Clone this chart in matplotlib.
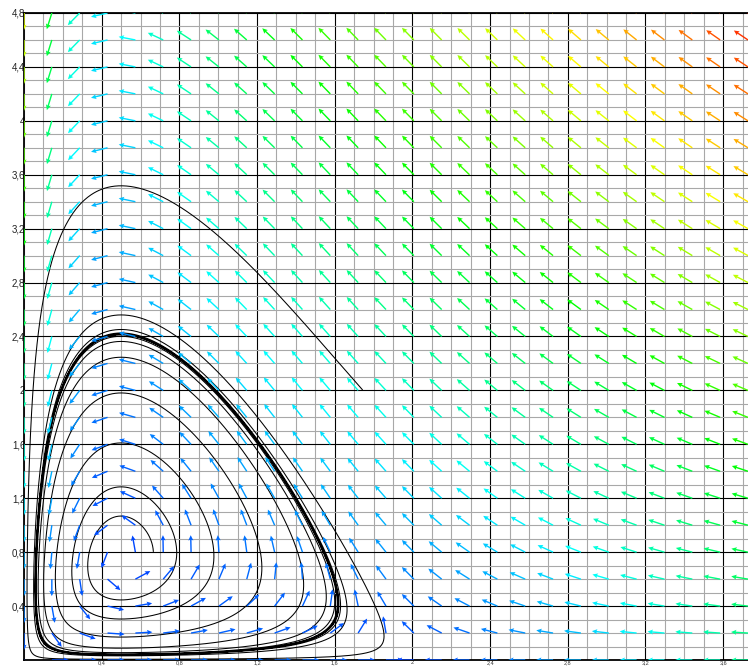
import numpy as np
import matplotlib
matplotlib.use("Agg")
import matplotlib.pyplot as plt
from matplotlib.colors import hsv_to_rgb, ListedColormap, Normalize
from matplotlib.ticker import MultipleLocator

# predator-prey model parameters
prey_growth = 0.4943
prey_capacity = 2.0
attack_rate = 1.0
handling = 2.1
conversion = 2.65
conversion_sat = 1.5
predator_death = 0.7571

# starting points of the drawn orbits and their integration times
orbit_start_x = [0.666, 1.742]
orbit_start_y = [0.806, 2.006]
orbit_time = [220.0, 160.0]

# axis window, arrow lattice and tick labels
x_max = 3.728
y_max = 4.8
arrow_cols = 27
arrow_rows = 25
x_tick_values = [0.4, 0.8, 1.2, 1.6, 2.0, 2.4, 2.8, 3.2, 3.6]
x_tick_labels = ["0,4", "0,8", "1,2", "1,6", "2", "2,4", "2,8", "3,2", "3,6"]
y_tick_values = [0.4, 0.8, 1.2, 1.6, 2.0, 2.4, 2.8, 3.2, 3.6, 4.0, 4.4, 4.8]
y_tick_labels = ["0,4", "0,8", "1,2", "1,6", "2", "2,4", "2,8", "3,2", "3,6", "4", "4,4", "4,8"]


def field(x, y):
    dx = prey_growth * x * (1 - x / prey_capacity) - attack_rate * x * y / (1 + handling * x)
    dy = y * (conversion * x / (1 + conversion_sat * x) - predator_death)
    return dx, dy


def orbit(x0, y0, t_end, dt=0.005):
    n = int(t_end / dt)
    xs = np.empty(n + 1)
    ys = np.empty(n + 1)
    x, y = x0, y0
    xs[0], ys[0] = x, y
    for i in range(n):
        k1 = field(x, y)
        k2 = field(x + 0.5 * dt * k1[0], y + 0.5 * dt * k1[1])
        k3 = field(x + 0.5 * dt * k2[0], y + 0.5 * dt * k2[1])
        k4 = field(x + dt * k3[0], y + dt * k3[1])
        x += dt / 6 * (k1[0] + 2 * k2[0] + 2 * k3[0] + k4[0])
        y += dt / 6 * (k1[1] + 2 * k2[1] + 2 * k3[1] + k4[1])
        xs[i + 1], ys[i + 1] = x, y
    return xs, ys


W, H = 748, 668
fig = plt.figure(figsize=(W / 100, H / 100), dpi=100)
ax_left, ax_bottom, ax_w, ax_h = 24, 8, 724, 647
ax = fig.add_axes([ax_left / W, ax_bottom / H, ax_w / W, ax_h / H])
ax.set_xlim(0, x_max)
ax.set_ylim(0, y_max)

# grid
ax.set_xticks(x_tick_values, x_tick_labels)
ax.set_yticks(y_tick_values, y_tick_labels)
ax.xaxis.set_minor_locator(MultipleLocator(0.1))
ax.yaxis.set_minor_locator(MultipleLocator(0.1))
ax.grid(which="minor", color="#a8a8a8", lw=0.8)
ax.grid(which="major", color="#000000", lw=0.8)
ax.set_axisbelow(True)
ax.tick_params(which="both", length=0)
ax.tick_params(axis="y", pad=-1, labelsize=7, labelcolor="#222222")
ax.tick_params(axis="x", pad=0.3, labelsize=4, labelcolor="#333333")
for lab in ax.get_xticklabels() + ax.get_yticklabels():
    lab.set_fontfamily("Liberation Sans")
for side in ("left", "top", "bottom"):
    ax.spines[side].set_linewidth(1.3)
    ax.spines[side].set_color("black")
ax.spines["right"].set_visible(False)

# orbits
for x0, y0, t_end in zip(orbit_start_x, orbit_start_y, orbit_time):
    xs, ys = orbit(x0, y0, t_end)
    ax.plot(xs, ys, color="black", lw=0.75, zorder=3)

# direction field, unit arrows in screen space, coloured by speed
gx, gy = np.meshgrid(np.linspace(0, x_max, arrow_cols), np.linspace(0, y_max, arrow_rows))
u, v = field(gx, gy)
speed = np.hypot(u, v)
su = u * ax_w / x_max
sv = v * ax_h / y_max
norm_len = np.hypot(su, sv)
norm_len[norm_len == 0] = 1.0
U, V = su / norm_len, sv / norm_len

hues = np.linspace(0.625, 0.015, 256)
cmap = ListedColormap(hsv_to_rgb(np.column_stack([hues, np.ones(256), np.ones(256)])))
ax.quiver(gx, gy, U, V, speed, cmap=cmap, norm=Normalize(0, speed.max()),
          angles="uv", scale_units="dots", scale=1 / 17, units="dots",
          width=1.4, headwidth=3.6, headlength=3.8, headaxislength=3.3,
          pivot="tail", zorder=4)

fig.savefig("out.png", dpi=100)
